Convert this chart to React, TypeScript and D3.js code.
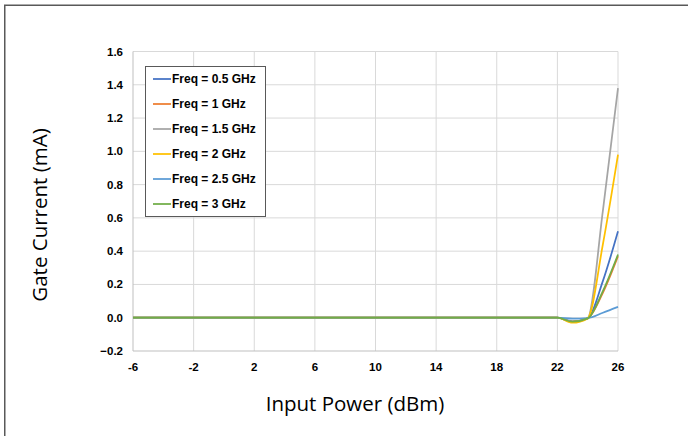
import React from "react";
import * as d3 from "d3";

const xValues = [-6, -5, -4, -3, -2, -1, 0, 1, 2, 3, 4, 5, 6, 7, 8, 9, 10, 11, 12, 13, 14, 15, 16, 17, 18, 19, 20, 21, 22, 23, 24, 25, 26];
const flat = [0, 0, 0, 0, 0, 0, 0, 0, 0, 0, 0, 0, 0, 0, 0, 0, 0, 0, 0, 0, 0, 0, 0, 0, 0, 0, 0, 0, 0];
const f05 = [...flat, -0.022, -0.004, 0.22, 0.52];
const f1 = [...flat, -0.024, -0.004, 0.15, 0.37];
const f15 = [...flat, -0.026, -0.004, 0.64, 1.38];
const f2 = [...flat, -0.03, -0.004, 0.44, 0.98];
const f25 = [...flat, -0.006, -0.002, 0.03, 0.065];
const f3 = [...flat, -0.024, -0.004, 0.16, 0.38];

const seriesNames = ["Freq = 0.5 GHz", "Freq = 1 GHz", "Freq = 1.5 GHz", "Freq = 2 GHz", "Freq = 2.5 GHz", "Freq = 3 GHz"];
const seriesValues = [f05, f1, f15, f2, f25, f3];
const colors = ["#4472C4", "#ED7D31", "#A5A5A5", "#FFC000", "#5B9BD5", "#70AD47"];
const xTicks = [-6, -2, 2, 6, 10, 14, 18, 22, 26];
const yTicks = [-0.2, 0, 0.2, 0.4, 0.6, 0.8, 1.0, 1.2, 1.4, 1.6];

export default function App() {
  const W = 688, H = 436;
  const x = d3.scaleLinear().domain([-6, 26]).range([133, 618]);
  const y = d3.scaleLinear().domain([-0.2, 1.6]).range([351, 51.5]);
  const line = d3
    .line<number>()
    .x((_, i) => x(xValues[i]))
    .y((d) => y(d))
    .curve(d3.curveMonotoneX);
  const tickFont = "Liberation Sans, Arial, sans-serif";
  const titleFont = "Open Sans, Noto Sans, sans-serif";
  return (
    <svg width={W} height={H} style={{ position: "absolute", left: 0, top: 0 }}>
      <rect x={0} y={0} width={W} height={H} fill="#fff" />
      <rect x={4.75} y={5.25} width={720} height={460} fill="none" stroke="#595959" strokeWidth={1.5} />
      {xTicks.slice(1).map((t) => (
        <line key={"gx" + t} x1={x(t)} x2={x(t)} y1={y(1.6)} y2={y(-0.2)} stroke="#d9d9d9" strokeWidth={1} />
      ))}
      {yTicks.slice(1).map((t) => (
        <line key={"gy" + t} x1={x(-6)} x2={x(26)} y1={y(t)} y2={y(t)} stroke="#d9d9d9" strokeWidth={1} />
      ))}
      <line x1={x(-6)} x2={x(-6)} y1={y(1.6)} y2={y(-0.2)} stroke="#bfbfbf" strokeWidth={1} />
      <line x1={x(-6)} x2={x(26)} y1={y(-0.2)} y2={y(-0.2)} stroke="#bfbfbf" strokeWidth={1} />
      {yTicks.map((t) => (
        <text key={"yl" + t} x={123} y={y(t)} dy="0.35em" textAnchor="end" fontFamily={tickFont} fontWeight="bold" fontSize={11.5} fill="#000">
          {d3.format(".1f")(t)}
        </text>
      ))}
      {xTicks.map((t) => (
        <text key={"xl" + t} x={x(t)} y={367} dy="0.35em" textAnchor="middle" fontFamily={tickFont} fontWeight="bold" fontSize={11.5} fill="#000">
          {t}
        </text>
      ))}
      {seriesValues.map((vals, i) => (
        <path key={"s" + i} d={line(vals) || ""} fill="none" stroke={colors[i]} strokeWidth={1.75} />
      ))}
      <g>
        <rect x={145.5} y={66.5} width={120} height={150} fill="#fff" stroke="#595959" strokeWidth={1} />
        {seriesNames.map((n, i) => (
          <g key={"lg" + i} transform={`translate(0, ${79 + i * 25})`}>
            <line x1={153} x2={171} y1={0} y2={0} stroke={colors[i]} strokeWidth={1.75} />
            <text x={172} y={0} dy="0.35em" fontFamily={tickFont} fontWeight="bold" fontSize={12} fill="#000">
              {n}
            </text>
          </g>
        ))}
      </g>
      <text x={355} y={404} dy="0.35em" textAnchor="middle" fontFamily={titleFont} fontSize={20.5} fill="#000">
        Input Power (dBm)
      </text>
      <text transform={`translate(40, 215) rotate(-90)`} dy="0.35em" textAnchor="middle" fontFamily={titleFont} fontSize={20.5} fill="#000">
        Gate Current (mA)
      </text>
    </svg>
  );
}
